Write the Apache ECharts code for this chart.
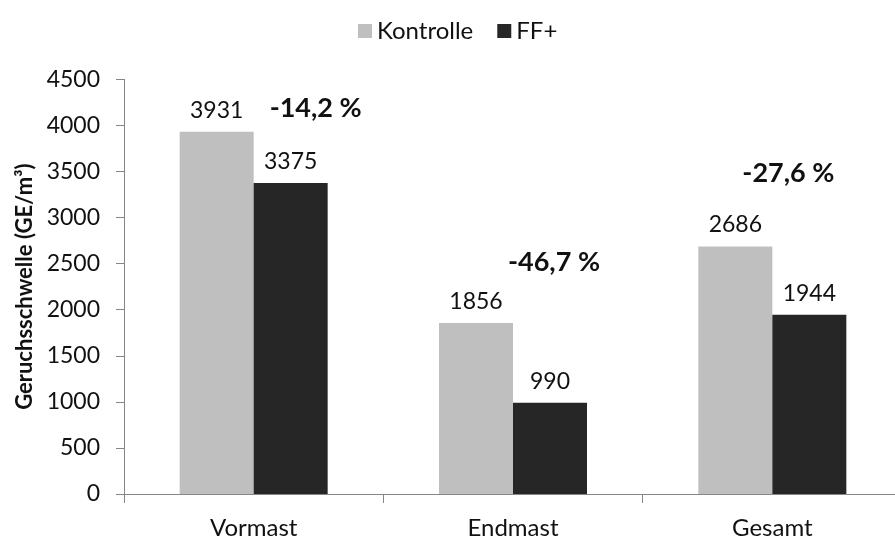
<!DOCTYPE html>
<html>
<head>
<meta charset="utf-8">
<script src="https://cdn.jsdelivr.net/npm/echarts@6/dist/echarts.min.js"></script>
<style>
  html, body { margin: 0; padding: 0; background: #fff; overflow: hidden; }
  /* plot area runs slightly past the right edge, as in the original */
  #chart { width: 902px; height: 543px; }
</style>
</head>
<body>
<div id="chart"></div>
<script>
const categories = ["Vormast", "Endmast", "Gesamt"];
const kontrolle = [3931, 1856, 2686];
const ffPlus = [3375, 990, 1944];
const changeLabels = ["-14,2 %", "-46,7 %", "-27,6 %"];

// where the percent notes sit (value units on y, pixel shift from the FF+ bar on x)
const notePlace = [
  { y: 4190, dx: 25 },
  { y: 2510, dx: 4 },
  { y: 3475, dx: -21 },
];

const font = "Lato";
const textColor = "#111";

const chart = echarts.init(document.getElementById("chart"));
chart.setOption({
  animation: false,
  textStyle: { fontFamily: font },
  legend: {
    top: 14,
    left: 353,
    itemWidth: 14,
    itemHeight: 14,
    itemGap: 24,
    icon: "rect",
    textStyle: { fontSize: 24, color: textColor, fontFamily: font },
    data: ["Kontrolle", "FF+"],
  },
  grid: {
    left: 124,
    top: 79.3,
    bottom: 49,
    right: 0,
  },
  xAxis: {
    type: "category",
    data: categories,
    axisLine: { lineStyle: { color: "#868686", width: 1 } },
    axisTick: { show: true, length: 9, lineStyle: { color: "#868686" } },
    axisLabel: { fontSize: 24, color: textColor, margin: 22, fontFamily: font },
  },
  yAxis: {
    type: "value",
    min: 0,
    max: 4500,
    interval: 500,
    name: "Geruchsschwelle (GE/m³)",
    nameLocation: "middle",
    nameGap: 88,
    nameTextStyle: { fontSize: 22, fontWeight: "bold", color: textColor, fontFamily: font },
    axisLine: { show: true, lineStyle: { color: "#868686", width: 1 } },
    axisTick: { show: true, length: 8, lineStyle: { color: "#868686" } },
    splitLine: { show: false },
    axisLabel: {
      fontSize: 23,
      color: textColor,
      margin: 24,
      fontFamily: font,
      formatter: (v) => String(v),
    },
  },
  series: [
    {
      name: "Kontrolle",
      type: "bar",
      data: kontrolle,
      barWidth: 74,
      barGap: "0%",
      itemStyle: { color: "#bfbfbf" },
      label: {
        show: true,
        position: "top",
        distance: 10,
        fontSize: 23,
        color: textColor,
        fontFamily: font,
      },
    },
    {
      name: "FF+",
      type: "bar",
      data: ffPlus,
      barWidth: 74,
      barGap: "0%",
      itemStyle: { color: "#262626" },
      label: {
        show: true,
        position: "top",
        distance: 10,
        fontSize: 23,
        color: textColor,
        fontFamily: font,
      },
      markPoint: {
        symbol: "circle",
        symbolSize: 0,
        data: changeLabels.map((txt, i) => ({
          coord: [categories[i], notePlace[i].y],
          label: {
            show: true,
            formatter: txt,
            position: "inside",
            offset: [notePlace[i].dx, 0],
            fontSize: 27,
            fontWeight: "bold",
            color: textColor,
            fontFamily: font,
          },
        })),
      },
    },
  ],
});
</script>
</body>
</html>
